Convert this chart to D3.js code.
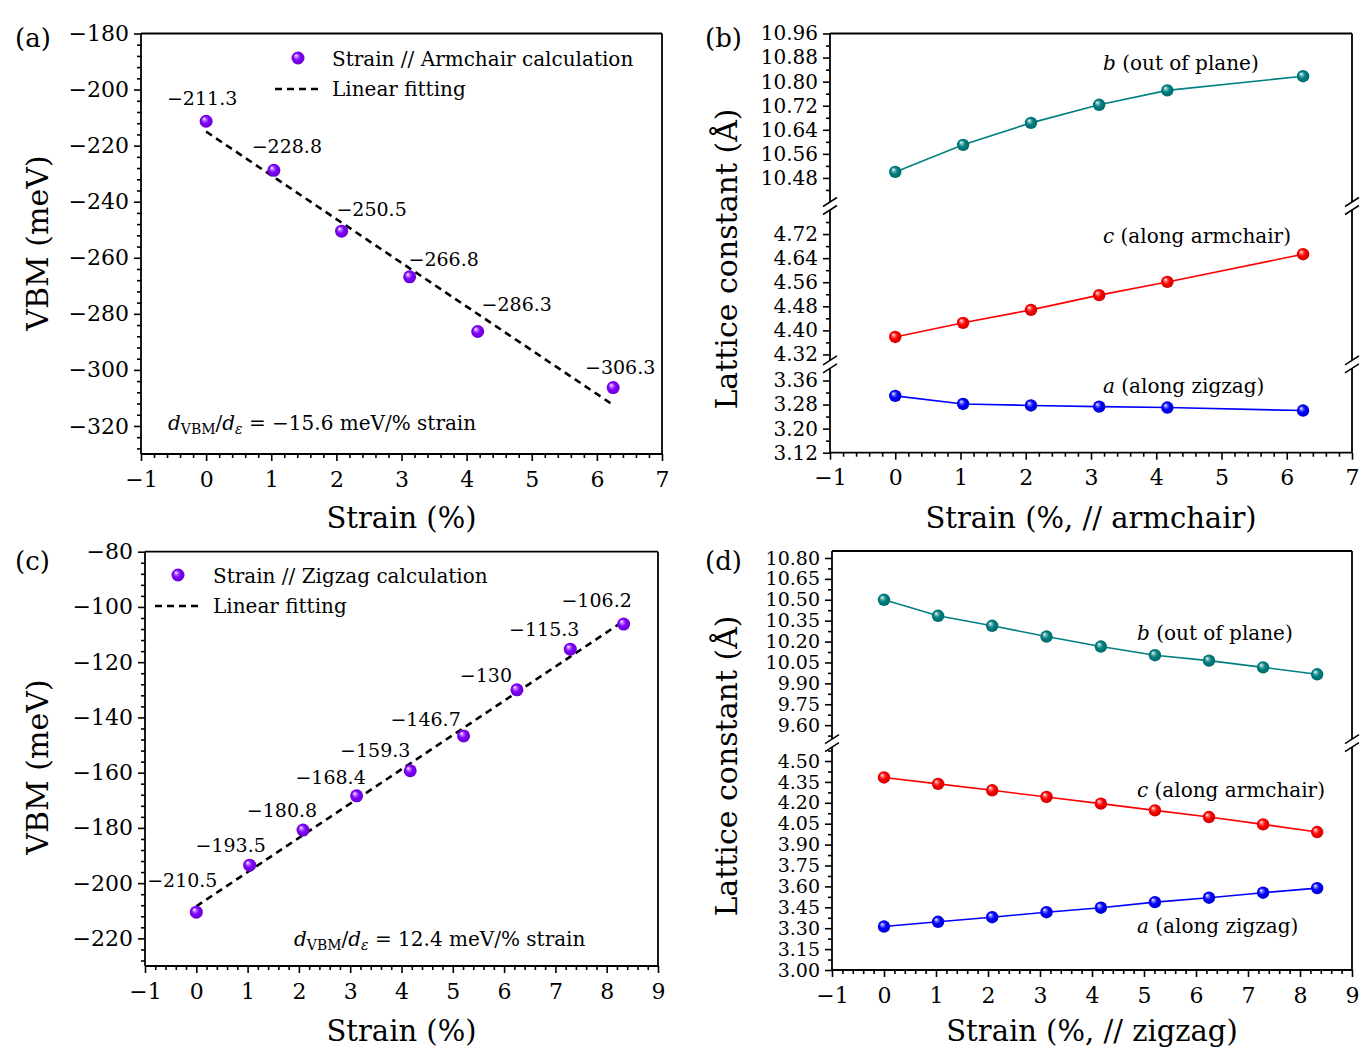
<!DOCTYPE html>
<html><head><meta charset="utf-8">
<script src="https://cdn.jsdelivr.net/npm/d3@7"></script>
<style>
body{margin:0;background:#fff;}
svg text{font-family:"DejaVu Serif",serif;fill:#000;}
</style></head><body>
<svg id="chart" width="1367" height="1051" font-family="DejaVu Serif"></svg>
<script>
// ---------------- data ----------------
const strainArm = [0, 1.04, 2.08, 3.125, 4.17, 6.25];
const vbmArm = [-211.3, -228.8, -250.5, -266.8, -286.3, -306.3];
const fitArmX = [0, 6.25];
const fitArmY = [-215.0, -312.5];

const strainZig = [0, 1.04, 2.08, 3.125, 4.17, 5.21, 6.25, 7.29, 8.33];
const vbmZig = [-210.5, -193.5, -180.8, -168.4, -159.3, -146.7, -130, -115.3, -106.2];
const fitZigX = [0, 8.33];
const fitZigY = [-208.4, -105.1];

const latArmB = [10.500, 10.590, 10.663, 10.723, 10.771, 10.818];
const latArmC = [4.378, 4.425, 4.468, 4.517, 4.561, 4.653];
const latArmA = [3.309, 3.282, 3.277, 3.273, 3.270, 3.260];

const latZigB = [10.500, 10.385, 10.313, 10.236, 10.164, 10.102, 10.063, 10.015, 9.965];
const latZigC = [4.382, 4.336, 4.290, 4.242, 4.194, 4.146, 4.098, 4.045, 3.990];
const latZigA = [3.312, 3.346, 3.379, 3.415, 3.447, 3.487, 3.519, 3.555, 3.588];

const xTicksArm = [-1, 0, 1, 2, 3, 4, 5, 6, 7];
const xTicksZig = [-1, 0, 1, 2, 3, 4, 5, 6, 7, 8, 9];
const yTicksA = [-320, -300, -280, -260, -240, -220, -200, -180];
const yTicksC = [-220, -200, -180, -160, -140, -120, -100, -80];
const yTicksB = [3.12, 3.20, 3.28, 3.36, 4.32, 4.40, 4.48, 4.56, 4.64, 4.72,
                 10.48, 10.56, 10.64, 10.72, 10.80, 10.88, 10.96];
const yTicksD = [3.00, 3.15, 3.30, 3.45, 3.60, 3.75, 3.90, 4.05, 4.20, 4.35, 4.50,
                 9.60, 9.75, 9.90, 10.05, 10.20, 10.35, 10.50, 10.65, 10.80];
const segB = [[3.12, 3.40], [4.30, 4.80], [10.40, 10.96]];
const segD = [[3.00, 4.60], [9.50, 10.85]];

const legendArm = ["Strain // Armchair calculation", "Linear fitting"];
const legendZig = ["Strain // Zigzag calculation", "Linear fitting"];
const seriesNames = [["b", " (out of plane)"], ["c", " (along armchair)"], ["a", " (along zigzag)"]];

// label placement (pixel offsets from the point)
const labelOffArm = [[-4, -16], [13, -17], [30, -15], [34, -11], [39, -20], [7, -14]];
const labelOffZig = [[-14, -25], [-19, -13], [-21, -13], [-26, -12], [-35, -14], [-38, -10], [-31, -8], [-26, -13], [-27, -17]];

// ---------------- helpers ----------------
const svg = d3.select("#chart");
const defs = svg.append("defs");
const FONT = "DejaVu Serif";
const colors = {purple: "#8000ff", teal: "#008080", red: "#ff0000", blue: "#0000ff"};

function makeGrad(id, color) {
  const g = defs.append("radialGradient").attr("id", id)
    .attr("cx", "50%").attr("cy", "50%").attr("r", "55%").attr("fx", "33%").attr("fy", "30%");
  const c = d3.color(color);
  g.append("stop").attr("offset", "0%").attr("stop-color", "#ffffff");
  g.append("stop").attr("offset", "22%").attr("stop-color", d3.interpolateRgb(color, "#ffffff")(0.45));
  g.append("stop").attr("offset", "50%").attr("stop-color", color);
  g.append("stop").attr("offset", "100%").attr("stop-color", c.darker(0.7).formatHex());
}
Object.entries(colors).forEach(([k, v]) => makeGrad("g-" + k, v));

function minorValues(lo, hi, step, majors) {
  const out = [];
  const i0 = Math.ceil(lo / step - 1e-6), i1 = Math.floor(hi / step + 1e-6);
  for (let i = i0; i <= i1; i++) {
    const v = +(i * step).toFixed(6);
    if (majors.some(m => Math.abs(m - v) < step * 0.01)) continue;
    out.push(v);
  }
  return out;
}

function brokenScale(segs, top, bottom, gap) {
  const total = d3.sum(segs, s => s[1] - s[0]);
  const k = (bottom - top - gap * (segs.length - 1)) / total;
  const dom = [], rng = [], px = [];
  let y = bottom;
  segs.forEach(s => {
    dom.push(s[0]); rng.push(y); const y0 = y;
    y -= (s[1] - s[0]) * k;
    dom.push(s[1]); rng.push(y); px.push([y0, y]);
    y -= gap;
  });
  return {scale: d3.scaleLinear().domain(dom).range(rng), px};
}

function styleAxis(sel, size) {
  sel.attr("font-family", FONT).attr("font-size", size);
  sel.select(".domain").remove();
  sel.selectAll(".tick line").attr("stroke", "#000").attr("stroke-width", 1.6);
  sel.selectAll(".tick text").attr("fill", "#000").attr("font-family", FONT);
}

function txt(g) { return g.append("text").attr("font-family", FONT).attr("fill", "#000"); }

function panel(o) {
  const g = svg.append("g");
  const x = d3.scaleLinear().domain([o.xTicks[0], o.xTicks[o.xTicks.length - 1]]).range([o.l, o.r]);
  const y = o.y;

  // x axis
  g.append("g").attr("transform", `translate(0,${o.b})`)
    .call(d3.axisBottom(x).tickValues(o.xTicks).tickSize(7).tickPadding(10).tickSizeOuter(0).tickFormat(d3.format("d")))
    .call(s => styleAxis(s, 22));
  g.append("g").attr("transform", `translate(0,${o.b})`)
    .call(d3.axisBottom(x).tickValues(minorValues(o.xTicks[0], o.xTicks[o.xTicks.length - 1], 0.2, o.xTicks)).tickSize(4).tickSizeOuter(0).tickFormat(""))
    .call(s => styleAxis(s, 22));

  // y axis
  g.append("g").attr("transform", `translate(${o.l},0)`)
    .call(d3.axisLeft(y).tickValues(o.yTicks).tickSize(7).tickPadding(5).tickSizeOuter(0).tickFormat(o.yFmt))
    .call(s => styleAxis(s, o.yFont));
  let minors = [];
  if (o.segs.length === 1) {
    minors = minorValues(o.segs[0][0], o.segs[0][1], o.yMinor, o.yTicks);
  } else {
    o.segs.forEach(s => {
      minorValues(s[0], s[1], o.yMinor, o.yTicks).forEach(v => {
        if (v > s[0] + o.yMinor * 0.3 && v < s[1] - o.yMinor * 0.3) minors.push(v);
      });
    });
  }
  g.append("g").attr("transform", `translate(${o.l},0)`)
    .call(d3.axisLeft(y).tickValues(minors).tickSize(4).tickSizeOuter(0).tickFormat(""))
    .call(s => styleAxis(s, o.yFont));

  // frame
  const fr = g.append("g").attr("stroke", "#000").attr("stroke-width", 1.8).attr("fill", "none");
  fr.append("line").attr("x1", o.l).attr("x2", o.r).attr("y1", o.t).attr("y2", o.t);
  fr.append("line").attr("x1", o.l).attr("x2", o.r).attr("y1", o.b).attr("y2", o.b);
  o.segPx.forEach(([y0, y1]) => {
    [o.l, o.r].forEach(xx => fr.append("line").attr("x1", xx).attr("x2", xx).attr("y1", y0).attr("y2", y1));
  });
  // break marks
  for (let i = 0; i < o.segPx.length - 1; i++) {
    const ys = [o.segPx[i][1], o.segPx[i + 1][0]];
    [o.l, o.r].forEach(xx => ys.forEach(yy => {
      fr.append("line").attr("x1", xx - 7).attr("y1", yy + 4.5).attr("x2", xx + 7).attr("y2", yy - 4.5).attr("stroke-width", 1.5);
    }));
  }

  // titles
  txt(g).attr("x", (o.l + o.r) / 2).attr("y", o.xTitleY).attr("text-anchor", "middle")
    .attr("font-size", 29).text(o.xTitle);
  txt(g).attr("transform", `translate(${o.yTitleX},${o.yTitleCY}) rotate(-90)`)
    .attr("text-anchor", "middle").attr("font-size", 30).text(o.yTitle);
  txt(g).attr("x", o.tagX).attr("y", o.tagY).attr("font-size", 26).text(o.tag);
  return {g, x, y};
}

// ---------------- VBM panels ----------------
function vbmPanel(o, strain, vbm, fitX, fitY, offs, legend, ann) {
  const p = panel(o);
  const {g, x, y} = p;
  g.append("path").datum(d3.zip(fitX, fitY))
    .attr("d", d3.line().x(d => x(d[0])).y(d => y(d[1])))
    .attr("fill", "none").attr("stroke", "#000").attr("stroke-width", 2.6).attr("stroke-dasharray", "7,5");
  const pts = d3.zip(strain, vbm);
  g.selectAll("circle.pt").data(pts).join("circle").attr("class", "pt")
    .attr("cx", d => x(d[0])).attr("cy", d => y(d[1])).attr("r", 6.5).attr("fill", "url(#g-purple)");
  g.selectAll("text.lab").data(pts).join("text").attr("class", "lab")
    .attr("font-family", FONT)
    .attr("x", (d, i) => x(d[0]) + offs[i][0]).attr("y", (d, i) => y(d[1]) + offs[i][1])
    .attr("text-anchor", "middle").attr("font-size", 19)
    .text(d => String(d[1]).replace("-", "\u2212"));
  // legend
  const L = o.legend;
  g.append("circle").attr("cx", L.mx).attr("cy", L.my).attr("r", 6.5).attr("fill", "url(#g-purple)");
  txt(g).attr("x", L.tx).attr("y", L.my + 8).attr("font-size", 20).text(legend[0]);
  g.append("line").attr("x1", L.lx0).attr("x2", L.lx1).attr("y1", L.ly).attr("y2", L.ly)
    .attr("stroke", "#000").attr("stroke-width", 2.6).attr("stroke-dasharray", "7,5");
  txt(g).attr("x", L.tx).attr("y", L.ly + 7).attr("font-size", 20).text(legend[1]);
  // annotation
  const t = txt(g).attr("x", ann.x).attr("y", ann.y).attr("font-size", 20);
  t.append("tspan").attr("font-style", "italic").text("d");
  t.append("tspan").attr("dy", 4).attr("font-size", 14).text("VBM");
  t.append("tspan").attr("dy", -4).text("/");
  t.append("tspan").attr("font-style", "italic").text("d");
  t.append("tspan").attr("dy", 4).attr("font-size", 14).attr("font-style", "italic").text("\u03b5");
  t.append("tspan").attr("dy", -4).text(" = " + ann.text);
}

const yA = d3.scaleLinear().domain([-330, -180]).range([454, 33.5]);
vbmPanel({l: 141, r: 662, t: 33.5, b: 454, xTicks: xTicksArm, y: yA, yTicks: yTicksA, yFmt: d3.format("d"), yFont: 22,
  segs: [[-330, -180]], segPx: [[454, 33.5]], yMinor: 4,
  xTitle: "Strain (%)", xTitleY: 528, yTitle: "VBM (meV)", yTitleX: 48, yTitleCY: 243, tag: "(a)", tagX: 15, tagY: 47,
  legend: {mx: 298, my: 58, tx: 332, lx0: 275, lx1: 322, ly: 89}},
  strainArm, vbmArm, fitArmX, fitArmY, labelOffArm, legendArm,
  {x: 168, y: 430, text: "\u221215.6 meV/% strain"});

const yC = d3.scaleLinear().domain([-230, -80]).range([966, 551.7]);
vbmPanel({l: 145, r: 658, t: 551.7, b: 966, xTicks: xTicksZig, y: yC, yTicks: yTicksC, yFmt: d3.format("d"), yFont: 22,
  segs: [[-230, -80]], segPx: [[966, 551.7]], yMinor: 4,
  xTitle: "Strain (%)", xTitleY: 1041, yTitle: "VBM (meV)", yTitleX: 48, yTitleCY: 767, tag: "(c)", tagX: 15, tagY: 570,
  legend: {mx: 178, my: 575, tx: 213, lx0: 155, lx1: 201, ly: 606}},
  strainZig, vbmZig, fitZigX, fitZigY, labelOffZig, legendZig,
  {x: 294, y: 946, text: "12.4 meV/% strain"});

// ---------------- lattice panels ----------------
function latPanel(o, strain, series, labelPos) {
  const p = panel(o);
  const {g, x, y} = p;
  const cols = ["teal", "red", "blue"];
  series.forEach((vals, si) => {
    const pts = d3.zip(strain, vals);
    g.append("path").datum(pts).attr("d", d3.line().x(d => x(d[0])).y(d => y(d[1])))
      .attr("fill", "none").attr("stroke", colors[cols[si]]).attr("stroke-width", 1.6);
    g.selectAll(null).data(pts).join("circle")
      .attr("cx", d => x(d[0])).attr("cy", d => y(d[1])).attr("r", 6.2).attr("fill", `url(#g-${cols[si]})`);
    const t = txt(g).attr("x", labelPos[si][0]).attr("y", labelPos[si][1]).attr("font-size", 20);
    t.append("tspan").attr("font-style", "italic").text(seriesNames[si][0]);
    t.append("tspan").text(seriesNames[si][1]);
  });
}

const bB = brokenScale(segB, 33.5, 452.7, 8);
latPanel({l: 830, r: 1352, t: 33.5, b: 452.7, xTicks: xTicksArm, y: bB.scale, yTicks: yTicksB, yFmt: d3.format(".2f"), yFont: 20,
  segs: segB, segPx: bB.px, yMinor: 0.04,
  xTitle: "Strain (%, // armchair)", xTitleY: 528, yTitle: "Lattice constant (\u00c5)", yTitleX: 737, yTitleCY: 259,
  tag: "(b)", tagX: 705, tagY: 47},
  strainArm, [latArmB, latArmC, latArmA], [[1103, 70], [1103, 243], [1103, 393]]);

const bD = brokenScale(segD, 551, 970, 8);
latPanel({l: 832, r: 1352, t: 551, b: 970, xTicks: xTicksZig, y: bD.scale, yTicks: yTicksD, yFmt: d3.format(".2f"), yFont: 19,
  segs: segD, segPx: bD.px, yMinor: 0.075,
  xTitle: "Strain (%, // zigzag)", xTitleY: 1041, yTitle: "Lattice constant (\u00c5)", yTitleX: 737, yTitleCY: 766,
  tag: "(d)", tagX: 705, tagY: 570},
  strainZig, [latZigB, latZigC, latZigA], [[1137, 640], [1137, 797], [1137, 933]]);
</script>
</body></html>
